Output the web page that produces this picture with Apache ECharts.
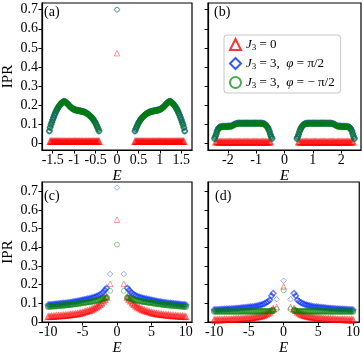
<!DOCTYPE html>
<html>
<head>
<meta charset="utf-8">
<script src="https://cdn.jsdelivr.net/npm/echarts@6/dist/echarts.min.js"></script>
<style>
html, body { margin: 0; padding: 0; background: #fff; }
#main { width: 363px; height: 357px; }
</style>
</head>
<body>
<div id="main"></div>
<script>
// panel (a): |E| of the two bands, values mirrored to negative E
const aE = [0.42, 0.44, 0.46, 0.48, 0.50, 0.52, 0.54, 0.56, 0.58, 0.60, 0.62, 0.64, 0.66, 0.68, 0.70, 0.72, 0.74, 0.76, 0.78, 0.80, 0.82, 0.84, 0.86, 0.88, 0.90, 0.92, 0.94, 0.96, 0.98, 1.00, 1.02, 1.04, 1.06, 1.08, 1.10, 1.12, 1.14, 1.16, 1.18, 1.20, 1.22, 1.24, 1.26, 1.28, 1.30, 1.32, 1.34, 1.36, 1.38, 1.40, 1.42, 1.44, 1.46, 1.48, 1.50, 1.52, 1.54, 1.56, 1.58]
const aGreen = [0.064, 0.075, 0.086, 0.096, 0.105, 0.113, 0.120, 0.127, 0.132, 0.137, 0.142, 0.146, 0.150, 0.153, 0.156, 0.159, 0.161, 0.163, 0.165, 0.166, 0.167, 0.168, 0.169, 0.170, 0.171, 0.172, 0.173, 0.174, 0.175, 0.177, 0.179, 0.182, 0.185, 0.189, 0.193, 0.198, 0.203, 0.208, 0.212, 0.216, 0.218, 0.219, 0.217, 0.213, 0.209, 0.204, 0.198, 0.192, 0.185, 0.177, 0.168, 0.158, 0.147, 0.135, 0.123, 0.110, 0.097, 0.082, 0.064]
const aBlue = [0.065, 0.076, 0.087, 0.097, 0.106, 0.114, 0.121, 0.128, 0.133, 0.138, 0.143, 0.147, 0.151, 0.154, 0.157, 0.160, 0.162, 0.164, 0.166, 0.167, 0.168, 0.169, 0.170, 0.171, 0.172, 0.173, 0.174, 0.175, 0.176, 0.178, 0.180, 0.183, 0.186, 0.190, 0.194, 0.199, 0.204, 0.209, 0.213, 0.217, 0.219, 0.220, 0.218, 0.214, 0.210, 0.205, 0.199, 0.193, 0.186, 0.178, 0.169, 0.159, 0.148, 0.136, 0.124, 0.111, 0.098, 0.083, 0.065]
const aRedE = [0.42, 0.44, 0.46, 0.48, 0.50, 0.52, 0.54, 0.56, 0.58, 0.60, 0.62, 0.64, 0.66, 0.68, 0.70, 0.72, 0.74, 0.76, 0.78, 0.80, 0.82, 0.84, 0.86, 0.88, 0.90, 0.92, 0.94, 0.96, 0.98, 1.00, 1.02, 1.04, 1.06, 1.08, 1.10, 1.12, 1.14, 1.16, 1.18, 1.20, 1.22, 1.24, 1.26, 1.28, 1.30, 1.32, 1.34, 1.36, 1.38, 1.40, 1.42, 1.44, 1.46, 1.48, 1.50, 1.52, 1.54, 1.56]
const aRed = [0.010, 0.009, 0.010, 0.009, 0.009, 0.010, 0.009, 0.009, 0.010, 0.009, 0.009, 0.009, 0.010, 0.009, 0.009, 0.009, 0.010, 0.009, 0.009, 0.009, 0.010, 0.009, 0.009, 0.010, 0.009, 0.009, 0.010, 0.009, 0.010, 0.009, 0.010, 0.009, 0.009, 0.010, 0.009, 0.009, 0.010, 0.009, 0.009, 0.009, 0.010, 0.009, 0.009, 0.009, 0.010, 0.009, 0.009, 0.010, 0.009, 0.009, 0.010, 0.009, 0.010, 0.009, 0.009, 0.010, 0.009, 0.010]
const aZero = { red: 0.472, blue: 0.70, green: 0.70 }

// panel (b)
const bE = [0.44, 0.47, 0.50, 0.53, 0.56, 0.59, 0.62, 0.65, 0.68, 0.71, 0.74, 0.78, 0.82, 0.86, 0.90, 0.94, 0.98, 1.02, 1.06, 1.10, 1.14, 1.18, 1.22, 1.26, 1.30, 1.34, 1.38, 1.42, 1.46, 1.50, 1.54, 1.58, 1.62, 1.66, 1.70, 1.74, 1.78, 1.82, 1.86, 1.90, 1.94, 1.98, 2.02, 2.06, 2.10, 2.14, 2.18, 2.22, 2.26, 2.29, 2.32, 2.35, 2.38, 2.41, 2.44, 2.47]
const bGreen = [0.024, 0.034, 0.046, 0.060, 0.072, 0.081, 0.088, 0.093, 0.097, 0.100, 0.102, 0.103, 0.104, 0.104, 0.104, 0.104, 0.104, 0.104, 0.104, 0.104, 0.104, 0.104, 0.104, 0.104, 0.104, 0.104, 0.104, 0.104, 0.104, 0.104, 0.104, 0.104, 0.104, 0.103, 0.102, 0.100, 0.097, 0.093, 0.090, 0.089, 0.088, 0.088, 0.087, 0.087, 0.087, 0.087, 0.087, 0.086, 0.085, 0.083, 0.079, 0.072, 0.062, 0.048, 0.035, 0.024]
const bBlue = [0.026, 0.036, 0.048, 0.062, 0.074, 0.083, 0.090, 0.095, 0.099, 0.102, 0.104, 0.105, 0.106, 0.106, 0.106, 0.106, 0.106, 0.106, 0.106, 0.106, 0.106, 0.106, 0.106, 0.106, 0.106, 0.106, 0.106, 0.106, 0.106, 0.106, 0.106, 0.106, 0.106, 0.105, 0.104, 0.102, 0.099, 0.095, 0.092, 0.091, 0.090, 0.090, 0.089, 0.089, 0.089, 0.089, 0.089, 0.088, 0.087, 0.085, 0.081, 0.074, 0.064, 0.050, 0.037, 0.026]
const bRedE = [0.50, 0.54, 0.58, 0.62, 0.66, 0.70, 0.74, 0.78, 0.82, 0.86, 0.90, 0.94, 0.98, 1.02, 1.06, 1.10, 1.14, 1.18, 1.22, 1.26, 1.30, 1.34, 1.38, 1.42, 1.46, 1.50, 1.54, 1.58, 1.62, 1.66, 1.70, 1.74, 1.78, 1.82, 1.86, 1.90, 1.94, 1.98, 2.02, 2.06, 2.10, 2.14, 2.18, 2.22, 2.26, 2.30, 2.34, 2.38, 2.42]
const bRed = [0.007, 0.007, 0.006, 0.007, 0.007, 0.006, 0.007, 0.007, 0.007, 0.006, 0.007, 0.007, 0.007, 0.006, 0.007, 0.007, 0.007, 0.006, 0.007, 0.007, 0.007, 0.006, 0.007, 0.007, 0.007, 0.006, 0.007, 0.007, 0.007, 0.006, 0.007, 0.007, 0.007, 0.006, 0.007, 0.007, 0.007, 0.006, 0.007, 0.007, 0.007, 0.006, 0.007, 0.007, 0.007, 0.006, 0.007, 0.007, 0.007]

// panels (c) and (d) share the same |E| grid for the tails
const tailE = [1.5, 1.75, 2, 2.25, 2.5, 2.75, 3, 3.25, 3.5, 3.75, 4, 4.25, 4.5, 4.75, 5, 5.25, 5.5, 5.75, 6, 6.25, 6.5, 6.75, 7, 7.25, 7.5, 7.75, 8, 8.25, 8.5, 8.75, 9, 9.25, 9.5, 9.75, 10]
const cBlue = [0.182, 0.172, 0.160, 0.152, 0.146, 0.141, 0.137, 0.134, 0.131, 0.128, 0.126, 0.124, 0.122, 0.120, 0.118, 0.116, 0.114, 0.112, 0.110, 0.109, 0.107, 0.106, 0.104, 0.103, 0.102, 0.101, 0.100, 0.099, 0.098, 0.097, 0.096, 0.095, 0.094, 0.093, 0.092]
const cGreen = [0.131, 0.128, 0.125, 0.122, 0.119, 0.117, 0.115, 0.113, 0.111, 0.109, 0.108, 0.107, 0.105, 0.104, 0.103, 0.101, 0.100, 0.098, 0.097, 0.096, 0.094, 0.093, 0.092, 0.091, 0.090, 0.089, 0.088, 0.087, 0.087, 0.086, 0.085, 0.084, 0.083, 0.083, 0.082]
const cRed = [0.133, 0.122, 0.112, 0.102, 0.094, 0.086, 0.080, 0.075, 0.070, 0.066, 0.062, 0.059, 0.056, 0.053, 0.050, 0.048, 0.046, 0.044, 0.043, 0.041, 0.040, 0.039, 0.038, 0.037, 0.036, 0.035, 0.034, 0.033, 0.033, 0.032, 0.031, 0.030, 0.030, 0.029, 0.028]
// isolated states at E = 0 and E = ±1
const cCore = { red: [0.548, 0.205], blue: [0.72, 0.257], green: [0.415, 0.167] }

const dBlue = [0.154, 0.140, 0.118, 0.110, 0.104, 0.099, 0.095, 0.092, 0.089, 0.087, 0.085, 0.083, 0.082, 0.081, 0.080, 0.079, 0.078, 0.077, 0.076, 0.075, 0.074, 0.073, 0.072, 0.072, 0.071, 0.070, 0.070, 0.069, 0.069, 0.068, 0.068, 0.067, 0.067, 0.066, 0.066]
const dGreen = [0.062, 0.060, 0.059, 0.058, 0.058, 0.058, 0.058, 0.058, 0.057, 0.057, 0.057, 0.057, 0.057, 0.057, 0.057, 0.057, 0.057, 0.057, 0.057, 0.057, 0.056, 0.056, 0.056, 0.056, 0.056, 0.056, 0.056, 0.056, 0.056, 0.056, 0.056, 0.056, 0.056, 0.056, 0.056]
const dRed = [0.070, 0.061, 0.053, 0.047, 0.042, 0.038, 0.035, 0.032, 0.030, 0.028, 0.026, 0.025, 0.023, 0.022, 0.021, 0.020, 0.019, 0.018, 0.018, 0.017, 0.016, 0.016, 0.015, 0.015, 0.014, 0.014, 0.013, 0.013, 0.013, 0.012, 0.012, 0.012, 0.011, 0.011, 0.011]
const dCore = { red: [0.19, 0.08], blue: [0.221, 0.122], green: [0.17, 0.069] }

const yTicks = [0, 0.1, 0.2, 0.3, 0.4, 0.5, 0.6, 0.7]
const aTicks = [-1.5, -1, -0.5, 0, 0.5, 1, 1.5]
const bTicks = [-2, -1, 0, 1, 2]
const cTicks = [-10, -5, 0, 5, 10]

const FONT = 'Liberation Serif'
const names = ['J3=0', 'J3=3, pi/2', 'J3=3, -pi/2']
const rgb = { red: '255,0,0', blue: '0,40,255', green: '0,128,0' }
const symbols = { red: 'triangle', blue: 'diamond', green: 'circle' }

// both signs of E
const mirror = (xs, ys) => {
	const pts = []
	xs.forEach((x, i) => {
		pts.push([-x, ys[i]])
		pts.push([x, ys[i]])
	})
	return pts
}

// lone states are drawn thin and pale, the dense bands heavier
const lone = (key, pts) => pts.map(v => ({
	value: v,
	itemStyle: { borderColor: 'rgba(' + rgb[key] + ',0.5)', borderWidth: 1 },
}))

const panels = [
	{
		red: mirror(aRedE, aRed).concat(lone('red', [[0, aZero.red]])),
		blue: mirror(aE, aBlue).concat(lone('blue', [[0, aZero.blue]])),
		green: mirror(aE, aGreen).concat(lone('green', [[0, aZero.green]])),
	},
	{
		red: mirror(bRedE, bRed),
		blue: mirror(bE, bBlue),
		green: mirror(bE, bGreen),
	},
	{
		red: mirror(tailE, cRed).concat(lone('red', mirror([1], [cCore.red[1]]).concat([[0, cCore.red[0]]]))),
		blue: mirror(tailE, cBlue).concat(lone('blue', mirror([1], [cCore.blue[1]]).concat([[0, cCore.blue[0]]]))),
		green: mirror(tailE, cGreen).concat(lone('green', mirror([1], [cCore.green[1]]).concat([[0, cCore.green[0]]]))),
	},
	{
		red: mirror(tailE, dRed).concat(lone('red', mirror([1], [dCore.red[1]]).concat([[0, dCore.red[0]]]))),
		blue: mirror(tailE, dBlue).concat(lone('blue', mirror([1], [dCore.blue[1]]).concat([[0, dCore.blue[0]]]))),
		green: mirror(tailE, dGreen).concat(lone('green', mirror([1], [dCore.green[1]]).concat([[0, dCore.green[0]]]))),
	},
]

const grids = [
	{ left: 38, top: 3, width: 154, height: 147 },
	{ left: 208, top: 3, width: 153, height: 147 },
	{ left: 38, top: 182, width: 154, height: 141 },
	{ left: 208, top: 182, width: 153, height: 141 },
].map(g => Object.assign(g, { show: true, borderColor: '#000', borderWidth: 1.2, backgroundColor: 'transparent' }))

const xAxis = (idx, range, ticks) => ({
	gridIndex: idx,
	type: 'value',
	min: -range,
	max: range,
	name: 'E',
	nameLocation: 'middle',
	nameGap: 19,
	nameTextStyle: { fontFamily: FONT, fontStyle: 'italic', fontSize: 15, color: '#000' },
	axisLine: { onZero: false, lineStyle: { color: '#000', width: 1.2 } },
	axisTick: { inside: false, length: 3.5, customValues: ticks, lineStyle: { color: '#000' } },
	axisLabel: { customValues: ticks, fontFamily: FONT, fontSize: 14, color: '#000', margin: 3 },
	splitLine: { show: false },
})

const yAxis = (idx, min, max, labelled) => ({
	gridIndex: idx,
	type: 'value',
	min: min,
	max: max,
	name: labelled ? 'IPR' : '',
	nameLocation: 'middle',
	nameRotate: 90,
	nameGap: 26,
	nameTextStyle: { fontFamily: FONT, fontSize: 15, color: '#000' },
	axisLine: { onZero: false, lineStyle: { color: '#000', width: 1.2 } },
	axisTick: { inside: false, length: 3.5, customValues: yTicks, lineStyle: { color: '#000' } },
	axisLabel: { show: labelled, customValues: yTicks, fontFamily: FONT, fontSize: 14, color: '#000', margin: 4 },
	splitLine: { show: false },
})

const series = []
panels.forEach((p, i) => {
	;['red', 'blue', 'green'].forEach((key, k) => {
		series.push({
			name: names[k],
			type: 'scatter',
			xAxisIndex: i,
			yAxisIndex: i,
			symbol: symbols[key],
			symbolSize: key === 'green' ? 5 : 5.5,
			itemStyle: { color: 'rgba(0,0,0,0)', borderColor: 'rgba(' + rgb[key] + ',0.7)', borderWidth: 1.5 },
			emphasis: { disabled: true },
			data: p[key],
		})
	})
})

const legendText = {
	'J3=0': '{it|J}{sub|3}{t| = 0}',
	'J3=3, pi/2': '{it|J}{sub|3}{t| = 3,  }{it|φ}{t| = π/2}',
	'J3=3, -pi/2': '{it|J}{sub|3}{t| = 3,  }{it|φ}{t| = − π/2}',
}
const legendColors = ['#ff0000', '#0030ff', '#1a961a']

const panelLabel = (text, left, top) => ({
	text: text,
	left: left,
	top: top,
	padding: 0,
	textStyle: { fontFamily: FONT, fontSize: 14, fontWeight: 'normal', color: '#000' },
})

const chart = echarts.init(document.getElementById('main'), null, { renderer: 'canvas' })
chart.setOption({
	animation: false,
	backgroundColor: '#fff',
	title: [
		panelLabel('(a)', 44, 5),
		panelLabel('(b)', 214, 5),
		panelLabel('(c)', 44, 189),
		panelLabel('(d)', 215, 189),
	],
	grid: grids,
	xAxis: [xAxis(0, 1.75, aTicks), xAxis(1, 2.7, bTicks), xAxis(2, 10.9, cTicks), xAxis(3, 10.9, cTicks)],
	yAxis: [yAxis(0, -0.035, 0.735, true), yAxis(1, -0.035, 0.735, false), yAxis(2, 0, 0.75, true), yAxis(3, 0, 0.75, false)],
	legend: {
		orient: 'vertical',
		left: 224,
		top: 35,
		itemWidth: 11,
		itemHeight: 11,
		itemGap: 5,
		padding: [3, 6, 3, 5],
		backgroundColor: '#fff',
		borderColor: '#c8c8c8',
		borderWidth: 1,
		borderRadius: 3,
		data: names.map((n, i) => ({
			name: n,
			itemStyle: { color: 'rgba(0,0,0,0)', borderColor: legendColors[i], borderWidth: 2 },
		})),
		formatter: n => legendText[n],
		textStyle: {
			fontFamily: FONT,
			fontSize: 13,
			color: '#000',
			rich: {
				it: { fontFamily: FONT, fontStyle: 'italic', fontSize: 13 },
				sub: { fontFamily: FONT, fontSize: 9, padding: [6, 0, 0, 0] },
				t: { fontFamily: FONT, fontSize: 13 },
			},
		},
	},
	series: series,
})
</script>
</body>
</html>
